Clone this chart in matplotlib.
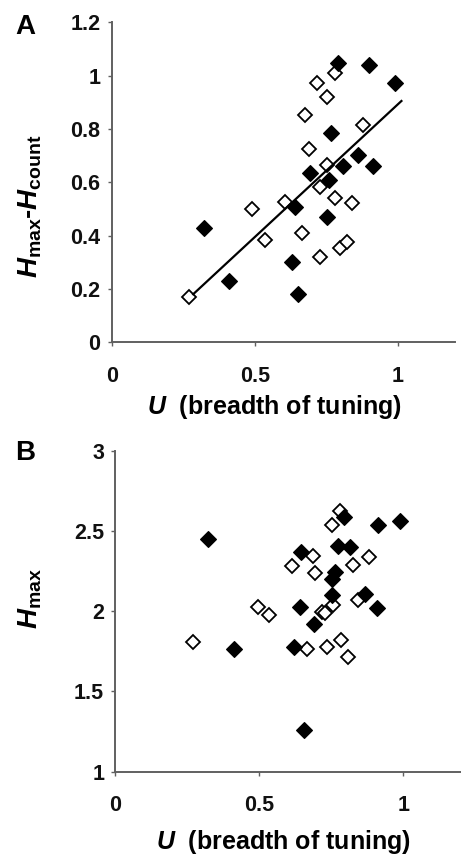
import matplotlib
matplotlib.use("Agg")
import matplotlib.pyplot as plt
import numpy as np

# panel A: Hmax - Hcount against U
u_a_open = [0.272, 0.492, 0.536, 0.606, 0.664, 0.676, 0.691, 0.717, 0.728, 0.728, 0.752,
            0.752, 0.781, 0.781, 0.798, 0.822, 0.839, 0.880]
d_a_open = [0.171, 0.501, 0.384, 0.527, 0.411, 0.852, 0.725, 0.971, 0.583, 0.321, 0.921,
            0.665, 1.011, 0.540, 0.352, 0.377, 0.521, 0.815]
u_a_filled = [0.323, 0.411, 0.629, 0.641, 0.653, 0.693, 0.752, 0.760, 0.767, 0.792, 0.810,
              0.862, 0.901, 0.915, 0.991]
d_a_filled = [0.429, 0.230, 0.302, 0.508, 0.181, 0.634, 0.471, 0.609, 0.784, 1.046, 0.661,
              0.702, 1.040, 0.661, 0.971]
# trend line
fit_slope = 0.995
fit_intercept = -0.103
fit_u_range = [0.285, 1.013]

# panel B: Hmax against U
u_b_open = [0.271, 0.494, 0.535, 0.612, 0.665, 0.686, 0.693, 0.718, 0.728, 0.734, 0.751,
            0.757, 0.780, 0.783, 0.807, 0.824, 0.843, 0.882]
h_b_open = [1.808, 2.030, 1.978, 2.280, 1.766, 2.343, 2.239, 1.995, 1.989, 1.780, 2.541,
            2.041, 2.624, 1.818, 1.717, 2.291, 2.068, 2.336]
u_b_filled = [0.323, 0.412, 0.621, 0.641, 0.645, 0.655, 0.691, 0.751, 0.751, 0.763, 0.772,
              0.794, 0.815, 0.867, 0.908, 0.913, 0.988]
h_b_filled = [2.449, 1.766, 1.780, 2.025, 2.370, 1.259, 1.920, 2.103, 2.201, 2.246, 2.410,
              2.588, 2.403, 2.108, 2.022, 2.539, 2.561]

plt.rcParams['font.family'] = ['Liberation Sans', 'DejaVu Sans']
plt.rcParams['font.weight'] = 'bold'
plt.rcParams['mathtext.fontset'] = 'custom'
plt.rcParams['mathtext.it'] = 'Liberation Sans:italic:bold'
plt.rcParams['mathtext.rm'] = 'Liberation Sans:bold'
plt.rcParams['mathtext.bf'] = 'Liberation Sans:bold'

fig = plt.figure(figsize=(4.61, 8.61), dpi=100)
ax_a = fig.add_axes([0.2423, 0.6024, 0.7445, 0.3717])
ax_b = fig.add_axes([0.2501, 0.1039, 0.7497, 0.3722])


def style(ax, ylim, yticks, yticklabels):
    ax.set_xlim(0, 1.2)
    ax.set_ylim(*ylim)
    ax.set_xticks([0, 0.5, 1])
    ax.set_xticklabels(['0', '0.5', '1'])
    ax.set_yticks(yticks)
    ax.set_yticklabels(yticklabels)
    for side in ['top', 'right']:
        ax.spines[side].set_visible(False)
    for side in ['left', 'bottom']:
        ax.spines[side].set_color('#606060')
        ax.spines[side].set_linewidth(1.4)
    ax.tick_params(axis='both', colors='#606060', labelcolor='#111111',
                   labelsize=15.5, length=3, width=1)
    ax.tick_params(axis='x', pad=14)
    ax.tick_params(axis='y', pad=5)
    for lab in ax.get_xticklabels() + ax.get_yticklabels():
        lab.set_fontweight('bold')


# panel A
ax_a.plot(u_a_open, d_a_open, 'D', ms=7.5, mfc='white', mec='black', mew=1.3, zorder=3)
ax_a.plot(u_a_filled, d_a_filled, 'D', ms=8, mfc='black', mec='black', mew=0.8, zorder=4)
xs = np.array(fit_u_range)
ax_a.plot(xs, fit_slope * xs + fit_intercept, color='black', lw=1.6, zorder=5)
style(ax_a, (0, 1.2), [0, 0.2, 0.4, 0.6, 0.8, 1, 1.2],
      ['0', '0.2', '0.4', '0.6', '0.8', '1', '1.2'])
ax_a.set_xlabel(r'$U$  (breadth of tuning)', fontsize=18, fontweight='bold', va='center')
ax_a.xaxis.set_label_coords(0.473, -0.202)
ax_a.set_ylabel(r'$H_{\mathrm{max}}$-$H_{\mathrm{count}}$', fontsize=20, fontweight='bold',
                va='center', ha='center')
ax_a.yaxis.set_label_coords(-0.238, 0.426)

# panel B
ax_b.plot(u_b_open, h_b_open, 'D', ms=7.5, mfc='white', mec='black', mew=1.3, zorder=3)
ax_b.plot(u_b_filled, h_b_filled, 'D', ms=8, mfc='black', mec='black', mew=0.8, zorder=4)
style(ax_b, (1, 3), [1, 1.5, 2, 2.5, 3], ['1', '1.5', '2', '2.5', '3'])
ax_b.set_xlabel(r'$U$  (breadth of tuning)', fontsize=18, fontweight='bold', va='center')
ax_b.xaxis.set_label_coords(0.488, -0.219)
ax_b.set_ylabel(r'$H_{\mathrm{max}}$', fontsize=20, fontweight='bold', va='center', ha='center')
ax_b.yaxis.set_label_coords(-0.247, 0.541)

fig.text(25 / 461, 1 - 27 / 861, 'A', fontsize=20, fontweight='bold', ha='center', va='center')
fig.text(25 / 461, 1 - 453 / 861, 'B', fontsize=20, fontweight='bold', ha='center', va='center')

fig.savefig('out.png', dpi=100)
